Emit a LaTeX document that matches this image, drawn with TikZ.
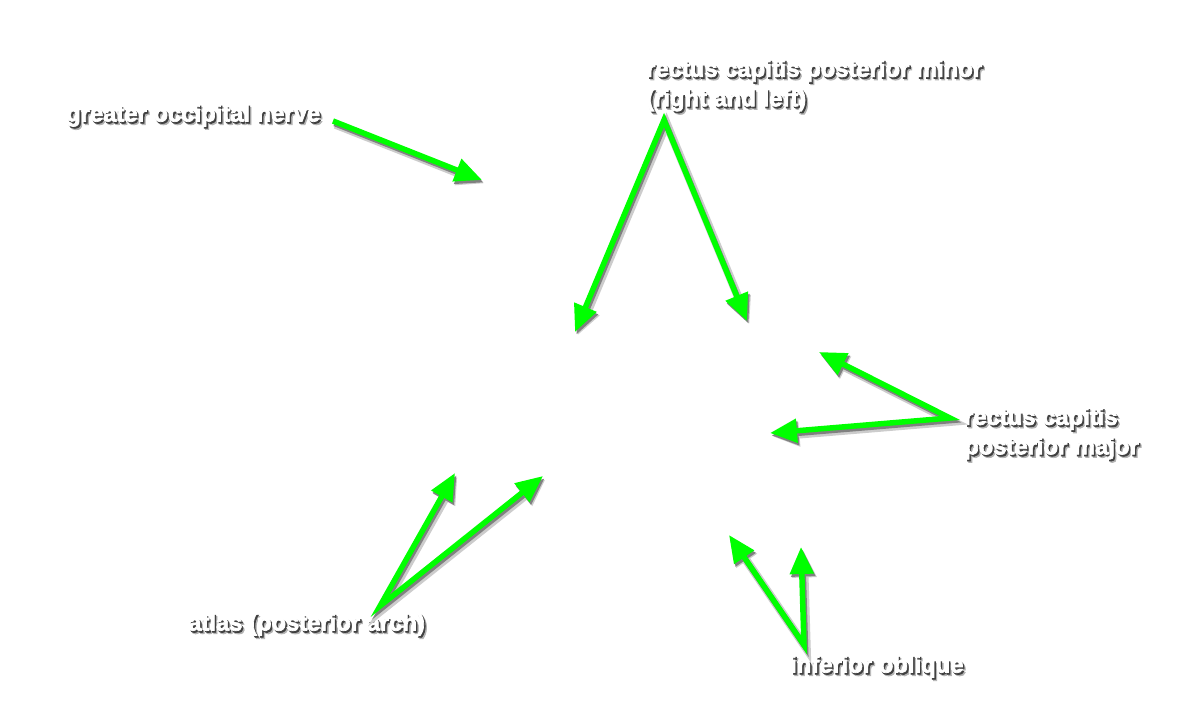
\documentclass[tikz,border=0pt]{standalone}
\usepackage{fontspec}
\setmainfont{Liberation Sans}
\usepackage{tikz}
\usetikzlibrary{arrows.meta,positioning}

\definecolor{pointergreen}{RGB}{0,255,0}
\newcommand\heavy[1]{\special{pdf:literal direct 2 Tr 0.7 w}#1\special{pdf:literal direct 0 Tr}}
\newcommand\shadowed[1]{\leavevmode\rlap{\kern2.8pt\raisebox{-3.2pt}{\textcolor{black!30}{\heavy{#1}}}}\rlap{\kern1.5pt\raisebox{-1.8pt}{\textcolor{black!75}{\heavy{#1}}}}\textcolor{white}{\heavy{#1}}}

\begin{document}
\begin{tikzpicture}[x=1pt,y=-1pt,>={Triangle[length=27pt,width=23pt]},
                label node/.style={inner sep=0pt,anchor=west,align=left,font=\fontsize{23.8}{29.5}\selectfont\bfseries},
                pointer/.style={draw=pointergreen,line width=5.5pt,line join=miter,
                    preaction={draw=black!20,line width=8.5pt,transform canvas={shift={(2.5pt,-3.5pt)}}},
                    preaction={draw=black!50,line width=5.5pt,transform canvas={shift={(1.5pt,-2.5pt)}}}}]
            \fill[white] (0,0) rectangle (1200,704);
            \useasboundingbox (0,0) rectangle (1200,704);
            \node[label node] (gon) at (66,117) {\shadowed{greater occipital nerve}};
            \node[label node] (rcpmin) at (646,87) {\shadowed{rectus capitis posterior minor}\\\shadowed{(right and left)}};
            \node[label node] (rcpmaj) at (964,435) {\shadowed{rectus capitis}\\\shadowed{posterior major}};
            \node[label node] (atlas) at (188,626) {\shadowed{atlas (posterior arch)}};
            \node[label node] (io) at (790,668) {\shadowed{inferior oblique}};
            \coordinate (gon tail) at (333,121);
            \coordinate (gon tip) at (482,180);
            \coordinate (min tail) at (664,120);
            \coordinate (min left) at (575,332);
            \coordinate (min right) at (747,321);
            \coordinate (maj tail) at (950,418);
            \coordinate (maj upper) at (819,352);
            \coordinate (maj lower) at (770,433);
            \coordinate (atlas tail) at (380,606);
            \coordinate (atlas left) at (455,473);
            \coordinate (atlas right) at (543,476);
            \coordinate (io tail) at (804,645);
            \coordinate (io left) at (729,535);
            \coordinate (io right) at (801,547);
            \draw[pointer,->] (gon tail) -- (gon tip);
            \draw[pointer,<->] (min left) -- (min tail) -- (min right);
            \draw[pointer,<->] (maj upper) -- (maj tail) -- (maj lower);
            \draw[pointer,<->] (atlas left) -- (atlas tail) -- (atlas right);
            \draw[pointer,<->] (io left) -- (io tail) -- (io right);
        \end{tikzpicture}
\end{document}
